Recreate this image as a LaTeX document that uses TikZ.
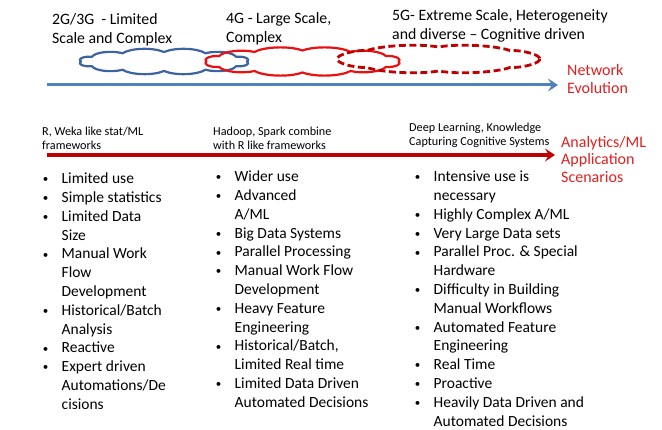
\documentclass[tikz,border=0pt]{standalone}
\usepackage{fontspec}
\setmainfont{Carlito}
\usetikzlibrary{arrows.meta}
\definecolor{netblue}{RGB}{79,129,189}
\definecolor{cloudblue}{RGB}{60,100,160}
\definecolor{darkred}{RGB}{192,0,0}
\definecolor{cloudred}{RGB}{232,16,16}
\definecolor{labelred}{RGB}{222,32,32}
\newcommand\bul{\makebox[20.5pt][l]{\hspace{1.6pt}{\fontsize{11}{11}\selectfont\raisebox{0.8pt}{•}}}}
\newcommand\cont{\hspace*{20.5pt}}
% #1 style, #2 cx, #3 cy, #4 a, #5 b, #6 puffs, #7 puff depth
\newcommand\cloudoutline[7]{%
  \draw[#1] ({#2+#4},{#3}) \foreach \k [evaluate=\k as \ta using (\k-1)*360/#6, evaluate=\k as \tb using \k*360/#6] in {1,...,#6} {
    .. controls ({#2+(#4+#7)*cos(\ta+90/#6)},{#3+(#5+#7)*sin(\ta+90/#6)}) and ({#2+(#4+#7)*cos(\tb-90/#6)},{#3+(#5+#7)*sin(\tb-90/#6)}) .. ({#2+#4*cos(\tb)},{#3+#5*sin(\tb)})
  } -- cycle;}
\begin{document}
\begin{tikzpicture}[x=1pt,y=-1pt,
  biglbl/.style={anchor=north west, inner sep=0pt, font=\fontsize{15.8}{19}\selectfont},
  redlbl/.style={anchor=north west, inner sep=0pt, text=labelred},
  smalllbl/.style={anchor=north west, inner sep=0pt, font=\fontsize{12.2}{14}\selectfont},
  listbox/.style={anchor=north west, inner sep=0pt, font=\fontsize{15.5}{18.8}\selectfont},
  solidcloud/.style={line width=2.2pt, line join=round},
  dashcloud/.style={line width=2.8pt, darkred, dash pattern=on 7pt off 3.5pt},
  evoarrow/.style={line width=3pt, -{Stealth[length=10pt,width=13pt,inset=4pt]}}
]
\useasboundingbox (0,0) rectangle (662,430);

% top labels
\node[biglbl] (g23) at (52,10.7) {\begin{tabular}{@{}l@{}}2G/3G~ - Limited\\Scale and Complex\end{tabular}};
\node[biglbl] (g4) at (226,9.7) {\begin{tabular}{@{}l@{}}4G - Large Scale,\\Complex\end{tabular}};
\node[biglbl] (g5) at (392,6.7) {\begin{tabular}{@{}l@{}}5G- Extreme Scale, Heterogeneity\\and diverse – Cognitive driven\end{tabular}};

% clouds
\cloudoutline{solidcloud, cloudblue}{164}{61.5}{83}{9.5}{12}{5}
\cloudoutline{solidcloud, cloudred}{302.5}{61.5}{96}{11}{12}{5}
\cloudoutline{dashcloud}{438.5}{59}{101}{12}{8}{4}

% network evolution arrow
\coordinate (bs) at (47,85);
\coordinate (be) at (558,85);
\draw[evoarrow, netblue] (bs) -- (be);
\node[redlbl, font=\fontsize{16}{18}\selectfont] (net) at (567,62.4) {\begin{tabular}{@{}l@{}}Network\\Evolution\end{tabular}};

% framework labels
\node[smalllbl] (f1) at (42,125.2) {\begin{tabular}{@{}l@{}}R, Weka like stat/ML\\frameworks\end{tabular}};
\node[smalllbl] (f2) at (213,125.2) {\begin{tabular}{@{}l@{}}Hadoop, Spark combine\\with R like frameworks\end{tabular}};
\node[smalllbl] (f3) at (409,121.2) {\begin{tabular}{@{}l@{}}Deep Learning, Knowledge\\Capturing Cognitive Systems\end{tabular}};

% analytics arrow
\coordinate (rs) at (47,155);
\coordinate (re) at (555,155);
\draw[evoarrow, darkred, line width=3.5pt] (rs) -- (re);
\node[redlbl, font=\fontsize{16}{17.5}\selectfont] (ana) at (561,134.75) {\begin{tabular}{@{}l@{}}Analytics/ML\\Application\\Scenarios\end{tabular}};

% lists
\node[listbox] (l1) at (41,170.3) {\begin{tabular}{@{}l@{}}
\bul Limited use\\
\bul Simple statistics\\
\bul Limited Data\\
\cont Size\\
\bul Manual Work\\
\cont Flow\\
\cont Development\\
\bul Historical/Batch\\
\cont Analysis\\
\bul Reactive\\
\bul Expert driven\\
\cont Automations/De\\
\cont cisions
\end{tabular}};
\node[listbox] (l2) at (214,168.3) {\begin{tabular}{@{}l@{}}
\bul Wider use\\
\bul Advanced\\
\cont A/ML\\
\bul Big Data Systems\\
\bul Parallel Processing\\
\bul Manual Work Flow\\
\cont Development\\
\bul Heavy Feature\\
\cont Engineering\\
\bul Historical/Batch,\\
\cont Limited Real time\\
\bul Limited Data Driven\\
\cont Automated Decisions
\end{tabular}};
\node[listbox] (l3) at (413,168.3) {\begin{tabular}{@{}l@{}}
\bul Intensive use is\\
\cont necessary\\
\bul Highly Complex A/ML\\
\bul Very Large Data sets\\
\bul Parallel Proc. \& Special\\
\cont Hardware\\
\bul Difficulty in Building\\
\cont Manual Workflows\\
\bul Automated Feature\\
\cont Engineering\\
\bul Real Time\\
\bul Proactive\\
\bul Heavily Data Driven and\\
\cont Automated Decisions
\end{tabular}};
\end{tikzpicture}
\end{document}
